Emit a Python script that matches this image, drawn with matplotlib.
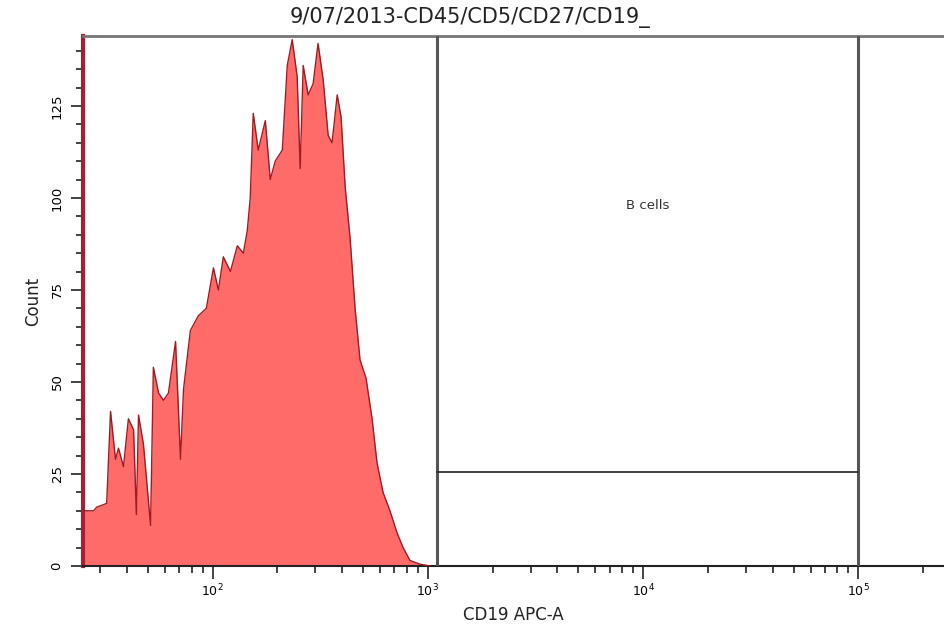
import matplotlib
matplotlib.use("Agg")
import matplotlib.pyplot as plt
import numpy as np
from matplotlib.ticker import LogLocator, MultipleLocator

# histogram: channel position (log10 of CD19 APC-A) and event count
log_pos = [1.401, 1.447, 1.462, 1.508, 1.526, 1.549, 1.563, 1.586, 1.609, 1.633,
           1.646, 1.656, 1.679, 1.712, 1.725, 1.749, 1.772, 1.795, 1.828, 1.851,
           1.865, 1.897, 1.934, 1.971, 2.004, 2.027, 2.050, 2.083, 2.115, 2.143,
           2.161, 2.175, 2.189, 2.212, 2.245, 2.268, 2.291, 2.324, 2.347, 2.370,
           2.393, 2.407, 2.421, 2.444, 2.467, 2.490, 2.514, 2.537, 2.555, 2.579,
           2.597, 2.616, 2.639, 2.662, 2.685, 2.713, 2.741, 2.764, 2.792, 2.824,
           2.857, 2.885, 2.917, 2.963, 3.010]
counts = [15, 15, 16, 17, 42, 29, 32, 27, 40, 37,
          14, 41, 33, 11, 54, 47, 45, 47, 61, 29,
          48, 64, 68, 70, 81, 75, 84, 80, 87, 85,
          91, 100, 123, 113, 121, 105, 110, 113, 136, 143,
          133, 108, 136, 128, 131, 142, 132, 117, 115, 128,
          122, 103, 89, 70, 56, 51, 40, 28, 20, 15,
          9, 5, 1.5, 0.5, 0]

title = "9/07/2013-CD45/CD5/CD27/CD19_"
gate_name = "B cells"
gate_x = [1.1e3, 1.0e5]
gate_y = 25.5

x = 10 ** np.array(log_pos)
y = np.array(counts)

fig = plt.figure(figsize=(9.44, 6.42), dpi=100)
fig.patch.set_facecolor("white")
ax = fig.add_axes([0.0879, 0.1184, 0.9121, 0.8255])

ax.fill_between(x, y, color="#ff6b68", linewidth=0, zorder=2)
ax.plot(x, y, color="#9e1b22", linewidth=1.0, zorder=3)

# gate
gate_col = "#555555"
ax.axvline(gate_x[0], color=gate_col, linewidth=2.2, zorder=4)
ax.axvline(gate_x[1], color=gate_col, linewidth=2.2, zorder=4)
ax.plot(gate_x, [gate_y, gate_y], color="#333333", linewidth=1.3, zorder=4)
ax.text(np.sqrt(gate_x[0] * gate_x[1]), 98, gate_name, ha="center", va="center",
        fontsize=9.5, color="#333333")

ax.set_xscale("log")
ax.set_xlim(25, 2.5e5)
ax.set_ylim(0, 144)

ax.xaxis.set_minor_locator(LogLocator(base=10, subs=np.arange(2, 10), numticks=20))
ax.set_xticks([1e2, 1e3, 1e4, 1e5])
ax.yaxis.set_major_locator(MultipleLocator(25))
ax.yaxis.set_minor_locator(MultipleLocator(5))

ax.tick_params(axis="x", which="major", direction="out", length=9, width=1.2,
               labelsize=9, pad=3, color="#222222")
ax.tick_params(axis="x", which="minor", direction="out", length=5, width=1.2, color="#222222")
ax.tick_params(axis="y", which="major", direction="out", length=9, width=1.2,
               labelsize=9.5, pad=5, color="#222222", labelrotation=90)
ax.tick_params(axis="y", which="minor", direction="out", length=5, width=1.2, color="#222222")
for lab in ax.get_yticklabels():
    lab.set_va("center")

ax.spines["right"].set_visible(False)
ax.spines["top"].set_color("#777777")
ax.spines["top"].set_linewidth(2)
ax.spines["left"].set_color("#a81e36")
ax.spines["left"].set_linewidth(3)
ax.spines["bottom"].set_color("#222222")
ax.spines["bottom"].set_linewidth(1.5)

ax.set_xlabel("CD19 APC-A", fontsize=12, color="#222222", labelpad=5)
ax.set_ylabel("Count", fontsize=12, color="#222222", labelpad=6)
fig.text(0.498, 1 - 18 / 642, title, ha="center", va="center", fontsize=15, color="#222222")

fig.savefig("out.png", dpi=100, facecolor="white")
